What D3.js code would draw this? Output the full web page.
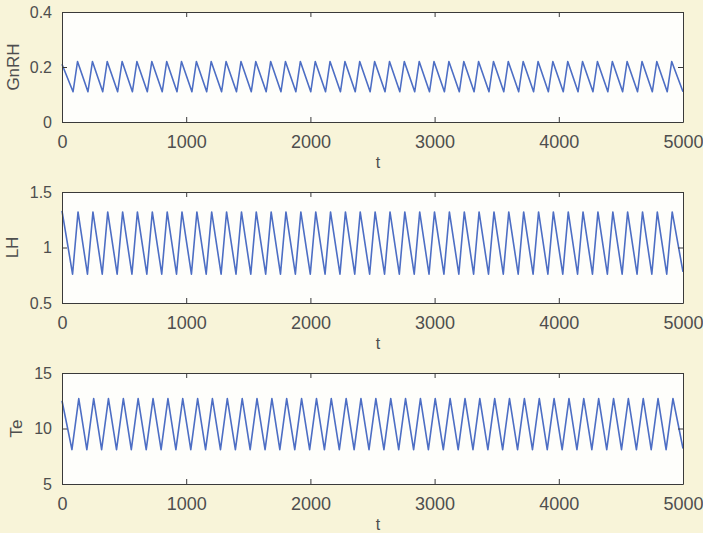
<!DOCTYPE html>
<html><head><meta charset="utf-8">
<script src="https://cdn.jsdelivr.net/npm/d3@7/dist/d3.min.js"></script>
<style>
html,body{margin:0;padding:0;background:#f8f4d9;}
svg{display:block;}
</style></head>
<body>
<svg id="chart" width="703" height="533"></svg>
<script>
// ---- data ----
const tDomain = [0, 5000];
const tTicks = [0, 1000, 2000, 3000, 4000, 5000];
const xLabel = "t";

// GnRH turning points
const gnrhTroughT = [89,209,328,448,567,687,807,926,1046,1165,1285,1405,1524,1644,1763,1883,2003,2122,2242,2361,2481,2601,2720,2840,2959,3079,3199,3318,3438,3557,3677,3797,3916,4036,4155,4275,4395,4514,4634,4753,4873];
const gnrhPeakT   = [125,245,364,484,603,723,843,962,1082,1201,1321,1441,1560,1680,1799,1919,2039,2158,2278,2397,2517,2637,2756,2876,2995,3115,3235,3354,3474,3593,3713,3833,3952,4072,4191,4311,4431,4550,4670,4789,4909];
const gnrhLevels = {start: 0.21, trough: 0.11, peak: 0.22, end: 0.11};
const gnrhTicks = [0, 0.2, 0.4];

// LH turning points
const lhTroughT = [85,205,324,444,563,683,803,922,1042,1161,1281,1401,1520,1640,1759,1879,1999,2118,2238,2357,2477,2597,2716,2836,2955,3075,3195,3314,3434,3553,3673,3793,3912,4032,4151,4271,4391,4510,4630,4749,4869];
const lhPeakT   = [129,249,368,488,607,727,847,966,1086,1205,1325,1445,1564,1684,1803,1923,2043,2162,2282,2401,2521,2641,2760,2880,2999,3119,3239,3358,3478,3597,3717,3837,3956,4076,4195,4315,4435,4554,4674,4793,4913];
const lhLevels = {start: 1.33, trough: 0.76, peak: 1.32, end: 0.78};
const lhTicks = [0.5, 1, 1.5];

// Te turning points
const teTroughT = [80,200,319,439,558,678,798,917,1037,1156,1276,1396,1515,1635,1754,1874,1994,2113,2233,2352,2472,2592,2711,2831,2950,3070,3190,3309,3429,3548,3668,3788,3907,4027,4146,4266,4386,4505,4625,4744,4864];
const tePeakT   = [135,255,374,494,613,733,853,972,1092,1211,1331,1451,1570,1690,1809,1929,2049,2168,2288,2407,2527,2647,2766,2886,3005,3125,3245,3364,3484,3603,3723,3843,3962,4082,4201,4321,4441,4560,4680,4799,4919];
const teLevels = {start: 12.5, trough: 8.1, peak: 12.7, end: 8.2};
const teTicks = [5, 10, 15];

function buildPoints(troughT, peakT, lv) {
  const pts = [{t: tDomain[0], v: lv.start}];
  troughT.forEach((tt, i) => {
    pts.push({t: tt, v: lv.trough});
    pts.push({t: peakT[i], v: lv.peak});
  });
  pts.push({t: tDomain[1], v: lv.end});
  return pts;
}

const panels = [
  {label: "GnRH", ticks: gnrhTicks, fmt: d => d === 0 ? "0" : d3.format(".1f")(d), pts: buildPoints(gnrhTroughT, gnrhPeakT, gnrhLevels), top: 12, bottom: 122, labelX: 13},
  {label: "LH", ticks: lhTicks, fmt: d => String(d), pts: buildPoints(lhTroughT, lhPeakT, lhLevels), top: 192, bottom: 303, labelX: 12},
  {label: "Te", ticks: teTicks, fmt: d => String(d), pts: buildPoints(teTroughT, tePeakT, teLevels), top: 373, bottom: 484, labelX: 16}
];

const left = 62, right = 683;
const svg = d3.select("#chart");
const x = d3.scaleLinear().domain(tDomain).range([left, right]);
const textCol = "#4e4e4e", axisCol = "#3a3a3a", lineCol = "#4d6ec4";
const font = "'Liberation Sans', Arial, sans-serif";

panels.forEach(p => {
  const y = d3.scaleLinear().domain([p.ticks[0], p.ticks[p.ticks.length - 1]]).range([p.bottom, p.top]);
  const g = svg.append("g");
  g.append("rect").attr("x", left).attr("y", p.top).attr("width", right - left).attr("height", p.bottom - p.top)
    .attr("fill", "#fefefb");

  // data line
  g.append("path").datum(p.pts)
    .attr("fill", "none").attr("stroke", lineCol).attr("stroke-width", 1.6).attr("stroke-linejoin", "round")
    .attr("d", d3.line().x(d => x(d.t)).y(d => y(d.v)));

  // axes (inward ticks, MATLAB-like box)
  const ax = (gen, tr) => g.append("g").attr("transform", tr).call(gen)
    .call(s => s.select(".domain").attr("stroke", axisCol).attr("stroke-width", 1))
    .call(s => s.selectAll(".tick line").attr("stroke", axisCol))
    .call(s => s.selectAll("text").attr("fill", textCol).attr("font-family", font));

  const bottomAx = ax(d3.axisBottom(x).tickValues(tTicks).tickSizeInner(-5).tickSizeOuter(0).tickPadding(13).tickFormat(d3.format("d")),
     `translate(0,${p.bottom})`);
  bottomAx.selectAll("text").attr("font-size", 18);
  ax(d3.axisTop(x).tickValues(tTicks).tickSizeInner(-5).tickSizeOuter(0).tickFormat(""), `translate(0,${p.top})`);
  const leftAx = ax(d3.axisLeft(y).tickValues(p.ticks).tickSizeInner(-5).tickSizeOuter(0).tickPadding(10).tickFormat(p.fmt),
     `translate(${left},0)`);
  leftAx.selectAll("text").attr("font-size", 16);
  ax(d3.axisRight(y).tickValues(p.ticks).tickSizeInner(-5).tickSizeOuter(0).tickFormat(""), `translate(${right},0)`);

  // y label
  g.append("text").attr("transform", `translate(${p.labelX + 6},${(p.top + p.bottom) / 2}) rotate(-90)`)
    .attr("text-anchor", "middle").attr("font-family", font).attr("font-size", 17).attr("fill", textCol)
    .text(p.label);
  // x label
  g.append("text").attr("x", 378).attr("y", p.bottom + 46).attr("text-anchor", "middle")
    .attr("font-family", font).attr("font-size", 16).attr("fill", textCol).text(xLabel);
});
</script>
</body></html>
